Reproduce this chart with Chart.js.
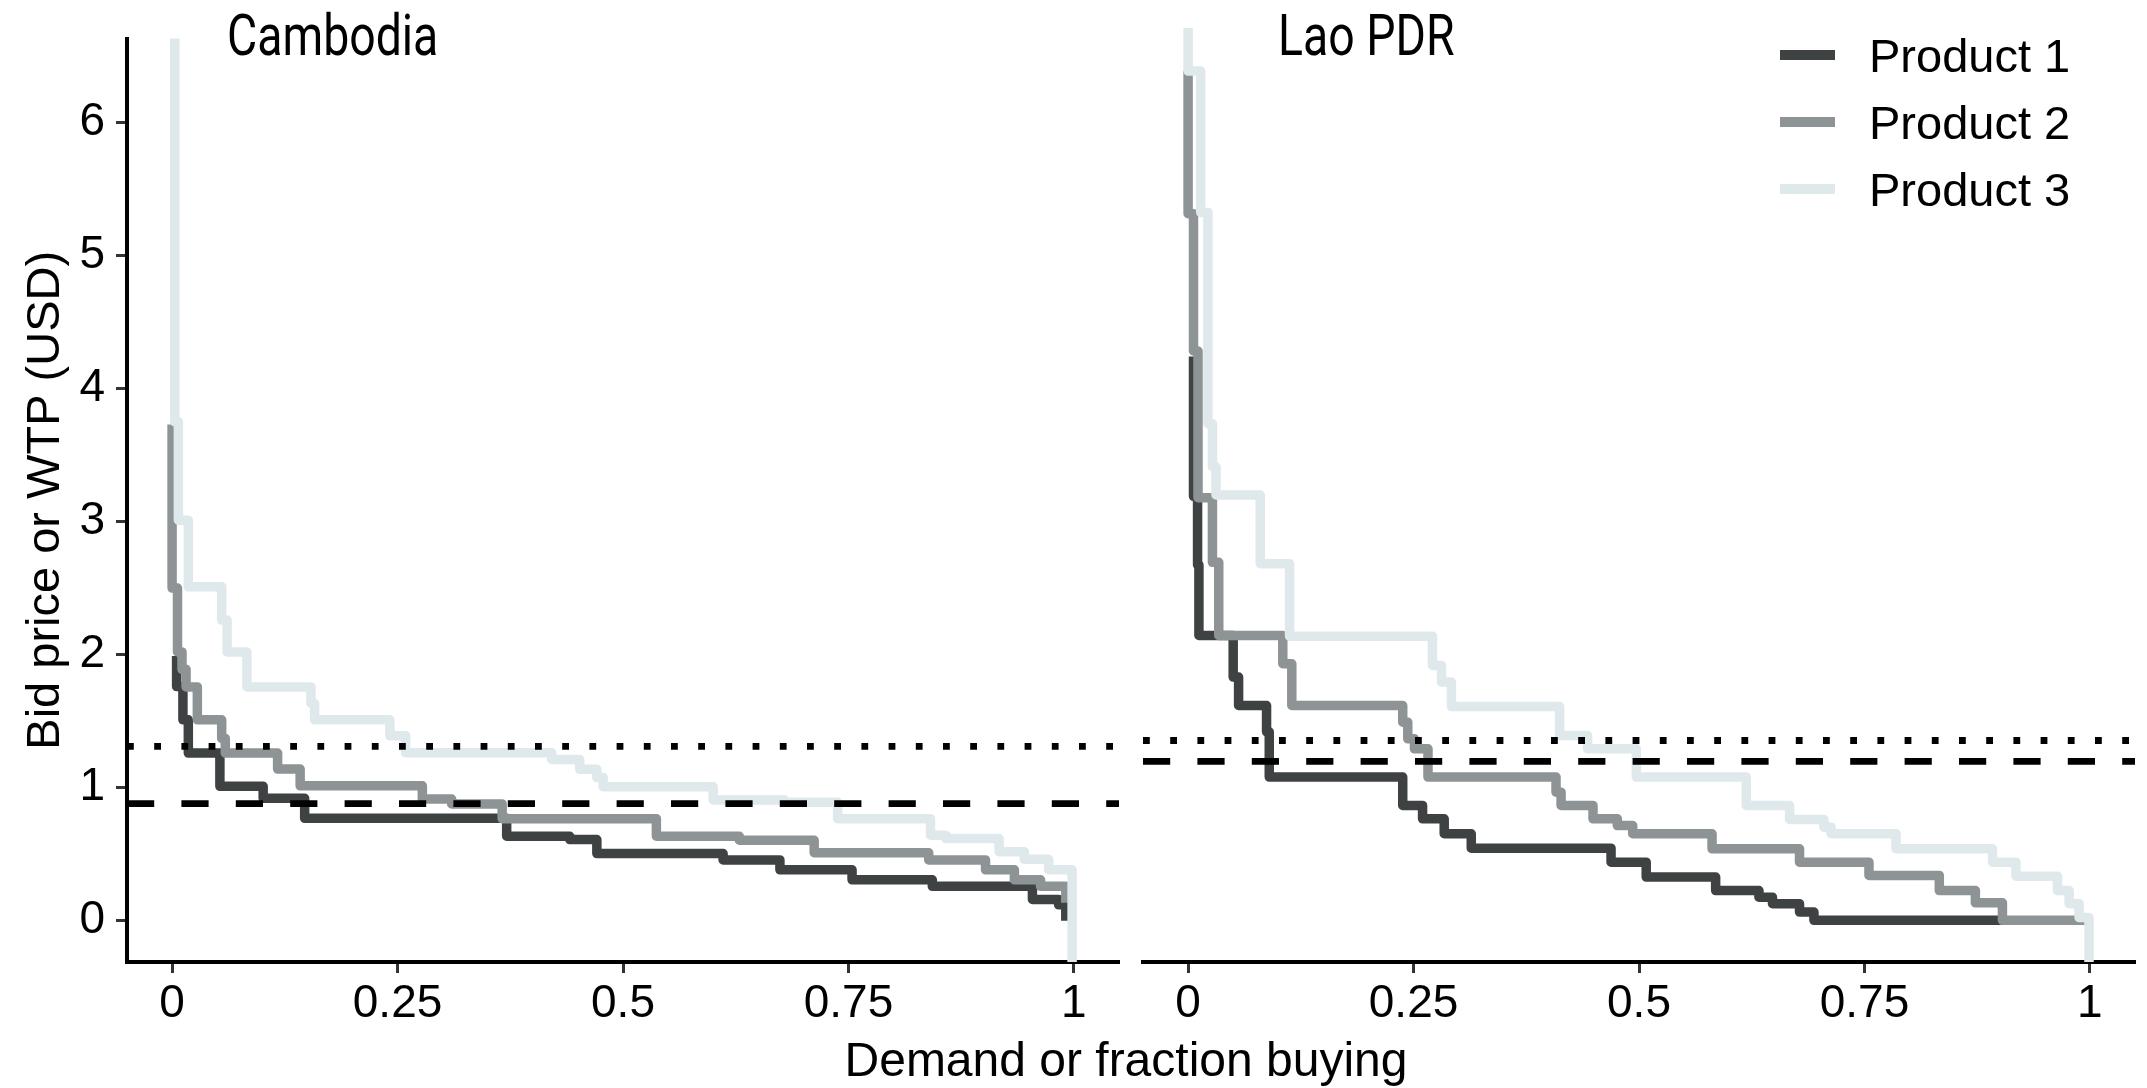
<!DOCTYPE html>
<html>
<head>
<meta charset="utf-8">
<script src="https://cdn.jsdelivr.net/npm/chart.js@4.4.0/dist/chart.umd.min.js"></script>
<style>
    html, body { margin: 0; padding: 0; background: #fff; }
    #wrap { position: relative; width: 2147px; height: 1088px; overflow: hidden; font-family: "Liberation Sans", Arial, sans-serif; color: #000; }
    canvas { position: absolute; top: 0; }
    #camCanvas { left: 0; }
    #laoCanvas { left: 1125px; }
    .ptitle { position: absolute; top: 6px; font-family: Roboto, sans-serif; font-size: 58px; line-height: 58px; transform: scaleX(0.8); transform-origin: 0 0; white-space: nowrap; }
    #xtitle { position: absolute; left: 1126px; top: 1036px; transform: translateX(-50%); font-size: 48px; line-height: 48px; white-space: nowrap; }
    .key { position: absolute; left: 1780px; width: 55px; height: 10px; }
    .leg { position: absolute; left: 1869px; font-size: 47px; line-height: 47px; white-space: nowrap; }
</style>
</head>
<body>
<div id="wrap">
    <canvas id="camCanvas" width="1125" height="1088"></canvas>
    <canvas id="laoCanvas" width="1022" height="1088"></canvas>
    <div class="ptitle" style="left:227px">Cambodia</div>
    <div class="ptitle" style="left:1278px">Lao PDR</div>
    <div id="xtitle">Demand or fraction buying</div>
    <div id="legend"></div>
</div>
<script>
// axis settings
const xMin = -0.05, xMax = 1.05;
const yMin = -0.31, yMax = 6.63;
const xTicks = [0, 0.25, 0.5, 0.75, 1];
const xTickLabels = ['0', '0.25', '0.5', '0.75', '1'];
const yTicks = [0, 1, 2, 3, 4, 5, 6];

const productNames = ['Product 1', 'Product 2', 'Product 3'];
const productColors = ['#3e4243', '#8e9495', '#dfe9eb'];

// Cambodia: x = demand where the price drops, y = price level after the drop
const camP1x = [0.005, 0.005, 0.012, 0.018, 0.053, 0.101, 0.147, 0.371, 0.441, 0.471, 0.611, 0.674, 0.754, 0.843, 0.954, 0.983, 0.991];
const camP1y = [1.99, 1.76, 1.51, 1.26, 1.01, 0.92, 0.77, 0.635, 0.61, 0.505, 0.457, 0.383, 0.308, 0.259, 0.16, 0.12, 0.0];
const camP2x = [0.0, 0.0, 0.006, 0.011, 0.0155, 0.028, 0.055, 0.059, 0.117, 0.142, 0.2775, 0.31, 0.366, 0.537, 0.629, 0.712, 0.839, 0.902, 0.934, 0.963, 0.991];
const camP2y = [3.73, 2.5, 2.02, 1.89, 1.757, 1.51, 1.37, 1.26, 1.14, 1.014, 0.915, 0.878, 0.767, 0.635, 0.605, 0.511, 0.457, 0.383, 0.308, 0.259, 0.135];
const camP3x = [0.003, 0.003, 0.007, 0.018, 0.055, 0.061, 0.083, 0.154, 0.158, 0.2415, 0.259, 0.421, 0.452, 0.471, 0.478, 0.600, 0.679, 0.738, 0.841, 0.858, 0.917, 0.945, 0.972, 0.998];
const camP3y = [6.9, 3.75, 3.01, 2.51, 2.26, 2.02, 1.757, 1.633, 1.51, 1.39, 1.262, 1.212, 1.138, 1.076, 1.007, 0.908, 0.89, 0.767, 0.643, 0.618, 0.519, 0.462, 0.383, -0.5];
const camDotted = 1.31;
const camDashed = 0.88;

// Lao PDR
const laoP1x = [0.006, 0.006, 0.0105, 0.012, 0.05, 0.056, 0.087, 0.090, 0.238, 0.260, 0.284, 0.314, 0.469, 0.508, 0.585, 0.633, 0.648, 0.678, 0.694, 0.905];
const laoP1y = [4.19, 3.15, 2.64, 2.116, 1.807, 1.596, 1.40, 1.064, 0.853, 0.754, 0.643, 0.536, 0.432, 0.321, 0.221, 0.172, 0.123, 0.061, 0.0, 0.0];
const laoP2x = [0.0, 0.0, 0.006, 0.011, 0.027, 0.034, 0.105, 0.115, 0.238, 0.2436, 0.251, 0.266, 0.408, 0.4136, 0.449, 0.476, 0.493, 0.581, 0.678, 0.755, 0.833, 0.873, 0.903, 0.995];
const laoP2y = [6.31, 5.25, 4.23, 3.14, 2.66, 2.116, 1.906, 1.596, 1.472, 1.348, 1.274, 1.064, 0.952, 0.853, 0.754, 0.704, 0.643, 0.531, 0.432, 0.333, 0.221, 0.13, 0.0, 0.0];
const laoP3x = [0.0, 0.0, 0.014, 0.022, 0.027, 0.031, 0.08, 0.1125, 0.271, 0.281, 0.292, 0.412, 0.443, 0.497, 0.619, 0.667, 0.705, 0.713, 0.785, 0.892, 0.918, 0.964, 0.977, 0.988, 0.999];
const laoP3y = [6.9, 6.31, 5.26, 3.69, 3.37, 3.16, 2.65, 2.111, 1.893, 1.77, 1.588, 1.373, 1.274, 1.064, 0.853, 0.749, 0.692, 0.643, 0.531, 0.432, 0.328, 0.221, 0.123, 0.02, -0.5];
const laoDotted = 1.336;
const laoDashed = 1.18;

Chart.defaults.font.family = '"Liberation Sans", Arial, sans-serif';
Chart.defaults.color = '#000';

let stepLine = function (xs, ys, idx) {
    return {
        label: productNames[idx],
        data: xs.map((x, i) => ({x: x, y: ys[i]})),
        borderColor: productColors[idx],
        borderWidth: 9.5,
        stepped: true,
        pointRadius: 0,
        fill: false,
        borderJoinStyle: 'round',
        borderCapStyle: 'butt',
        clip: 0,
        order: 3 - idx
    };
}

let refLine = function (value, dash) {
    return {
        label: 'ref',
        data: [{x: xMin, y: value}, {x: xMax, y: value}],
        borderColor: '#000',
        borderWidth: 6.8,
        borderDash: dash,
        borderCapStyle: 'butt',
        pointRadius: 0,
        fill: false,
        clip: 0,
        order: 0
    };
}

let tickGrid = {drawOnChartArea: false, drawTicks: true, tickLength: 11, tickWidth: 3, tickColor: '#333333'};
let axisBorder = {display: true, color: '#000', width: 4};

let makeScales = function (showY) {
    return {
        x: {
            type: 'linear', min: xMin, max: xMax,
            afterBuildTicks: axis => { axis.ticks = xTicks.map(v => ({value: v})); },
            afterFit: scale => { scale.height = 126; },
            grid: tickGrid,
            border: axisBorder,
            ticks: {
                font: {size: 46}, color: '#000', padding: 4, maxRotation: 0, autoSkip: false,
                callback: (v, i) => xTickLabels[i]
            }
        },
        y: {
            type: 'linear', min: yMin, max: yMax, display: showY,
            afterBuildTicks: axis => { axis.ticks = yTicks.map(v => ({value: v})); },
            afterFit: scale => { scale.width = showY ? 127 : 0; },
            grid: tickGrid,
            border: axisBorder,
            ticks: {font: {size: 46}, color: '#000', padding: 11},
            title: {
                display: true, text: 'Bid price or WTP (USD)', color: '#000',
                font: {size: 47}, padding: {top: 18, bottom: 0}
            }
        }
    };
}

let baseOptions = function (showY, padding) {
    return {
        responsive: false,
        animation: false,
        layout: {padding: padding},
        plugins: {legend: {display: false}, tooltip: {enabled: false}},
        scales: makeScales(showY)
    };
}

let camChart = new Chart(document.getElementById('camCanvas'), {
    type: 'line',
    data: {
        datasets: [
            stepLine(camP1x, camP1y, 0),
            stepLine(camP2x, camP2y, 1),
            stepLine(camP3x, camP3y, 2),
            refLine(camDotted, [6.8, 20.4]),
            refLine(camDashed, [27.2, 27.2])
        ]
    },
    options: baseOptions(true, {top: 28, right: 6, bottom: 0, left: 0})
});

let laoChart = new Chart(document.getElementById('laoCanvas'), {
    type: 'line',
    data: {
        datasets: [
            stepLine(laoP1x, laoP1y, 0),
            stepLine(laoP2x, laoP2y, 1),
            stepLine(laoP3x, laoP3y, 2),
            refLine(laoDotted, [6.8, 20.4]),
            refLine(laoDashed, [27.2, 27.2])
        ]
    },
    options: baseOptions(false, {top: 28, right: 12, bottom: 0, left: 18})
});

// legend
let legend = document.getElementById('legend');
productNames.forEach(function (name, i) {
    let key = document.createElement('div');
    key.className = 'key';
    key.style.top = (50 + i * 67) + 'px';
    key.style.background = productColors[i];
    legend.appendChild(key);
    let txt = document.createElement('div');
    txt.className = 'leg';
    txt.style.top = (32 + i * 67) + 'px';
    txt.textContent = name;
    legend.appendChild(txt);
});
</script>
</body>
</html>
